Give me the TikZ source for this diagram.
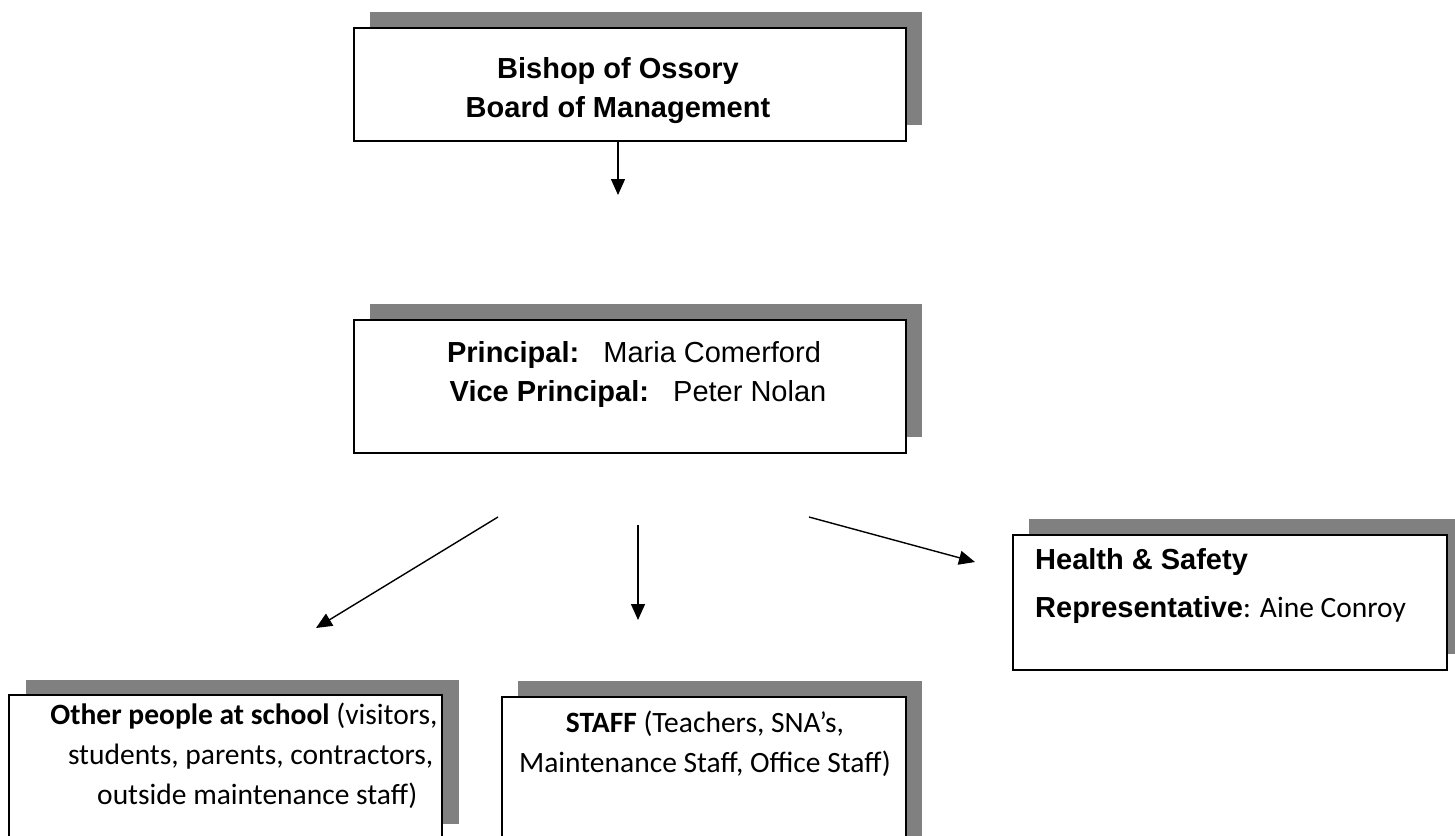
\documentclass[tikz,border=0pt]{standalone}
\usepackage{fontspec}
\setmainfont{Liberation Sans}
\newfontfamily\calfont{Carlito}
\usetikzlibrary{arrows.meta}
\definecolor{shadowgray}{RGB}{128,128,128}
\begin{document}
\begin{tikzpicture}[x=1pt,y=-1pt,
  box/.style={draw=black,line width=1.5pt,fill=white,inner sep=0pt},
  shade/.style={fill=shadowgray},
  arr/.style={line width=1.4pt,-{Triangle[length=16pt,width=14pt]}},
  cs/.style={font=\fontsize{29}{39}\selectfont,align=center,inner sep=0pt},
  cb/.style={font=\calfont\fontsize{29.5}{40}\selectfont,align=center,inner sep=0pt},
  lt/.style={inner sep=0pt,anchor=base west}]
\useasboundingbox (0,0) rectangle (1455,835);
% Bishop box
\fill[shade] (370,12) rectangle (922,125);
\node[box,minimum width=552pt,minimum height=113pt] (bishop) at (630,84.5) {};
\node[cs] (bishoptxt) at (618,91) {\textbf{Bishop of Ossory}\\\textbf{Board of Management}};
% Principal box
\fill[shade] (370,304) rectangle (922,437);
\node[box,minimum width=552pt,minimum height=133pt] (principal) at (630,386.5) {};
\node[cs] (principaltxt) at (634,374) {\textbf{Principal:}\ \ \ Maria Comerford\\\ \textbf{Vice Principal:}\ \ \ Peter Nolan};
% Health & Safety box
\fill[shade] (1029,519) rectangle (1463,654);
\node[box,minimum width=434pt,minimum height=135pt] (health) at (1230,602.5) {};
\node[lt,font=\fontsize{29}{39}\selectfont] (healthtxt) at (1035,569) {\textbf{Health \& Safety}};
\node[lt,font=\fontsize{29}{39}\selectfont] (reptxt) at (1035,617) {\textbf{Representative}{\calfont\fontsize{29.5}{40}\selectfont: Aine Conroy}};
% Other people box
\fill[shade] (26,680) rectangle (459,824);
\node[box,minimum width=433pt,minimum height=155pt] (other) at (225.5,772.5) {};
\node[cb] (othertxt) at (244,756) {\textbf{Other people at school} (visitors,\\\ \ students, parents, contractors,\\\ \ \ \ outside maintenance staff)};
% Staff box
\fill[shade] (518,681) rectangle (922,840);
\node[box,minimum width=404pt,minimum height=153pt] (staff) at (704,773.5) {};
\node[cb] (stafftxt) at (705,744) {\textbf{STAFF} (Teachers, SNA’s,\\Maintenance Staff, Office Staff)};
% Arrows
\coordinate (a1e) at (618,195);
\coordinate (a2s) at (498,517);
\coordinate (a2e) at (316,628);
\coordinate (a3s) at (638,525);
\coordinate (a3e) at (638,620);
\coordinate (a4s) at (809,517);
\coordinate (a4e) at (975,562);
\draw[arr] (bishop.south -| a1e) -- (a1e);
\draw[arr] (a2s) -- (a2e);
\draw[arr] (a3s) -- (a3e);
\draw[arr] (a4s) -- (a4e);
\end{tikzpicture}
\end{document}
